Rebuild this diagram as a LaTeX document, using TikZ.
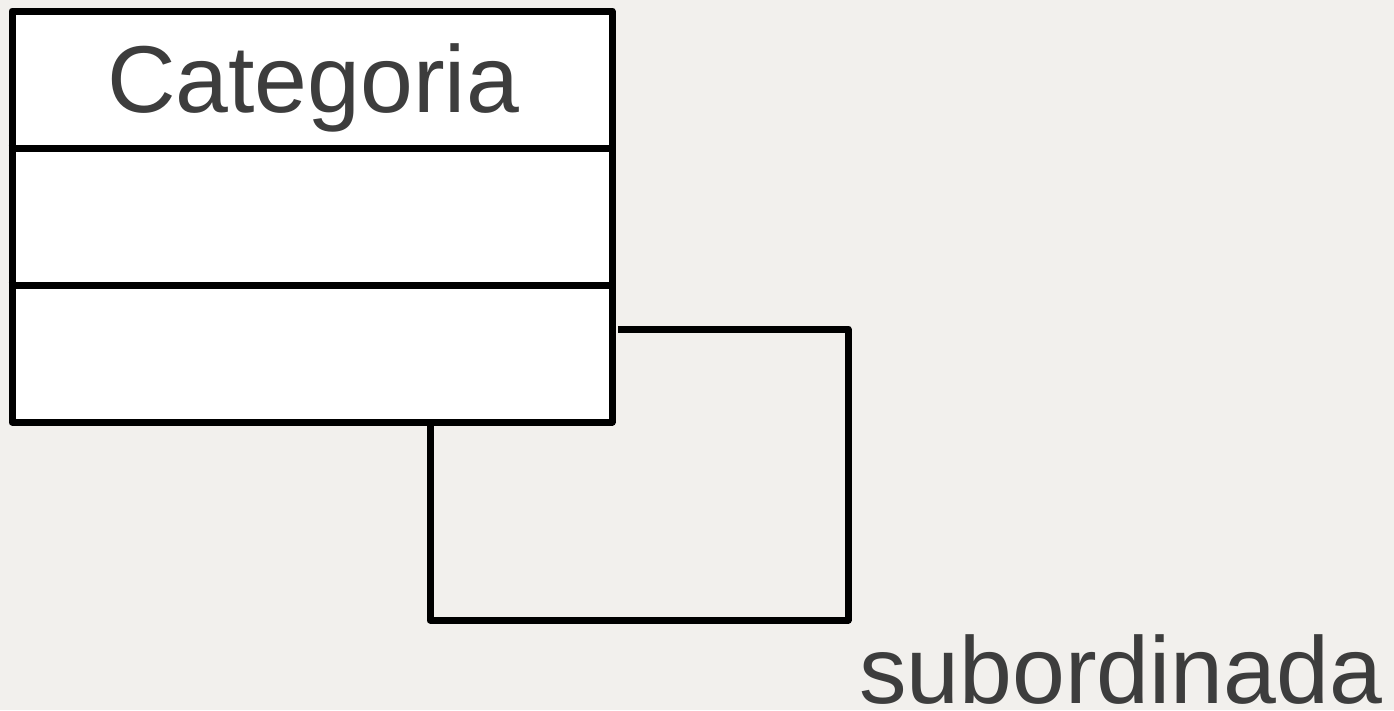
\documentclass[tikz,border=0pt]{standalone}
\usepackage{fontspec}
\setmainfont{Liberation Sans}
\definecolor{bg}{HTML}{F2F0ED}
\definecolor{txt}{HTML}{3D3D3D}
\begin{document}
\begin{tikzpicture}[x=1pt,y=-1pt,
  umlbox/.style={draw=black,fill=white,line width=7pt,minimum width=600pt,minimum height=411pt,inner sep=0pt,line join=round},
  lbl/.style={text=txt,font=\fontsize{95}{110}\selectfont,inner sep=0pt},
  conn/.style={draw=black,line width=7pt,line join=round}]
\fill[bg] (0,0) rectangle (1394,710);
\useasboundingbox (0,0) rectangle (1394,710);
\node[umlbox] (cls) at (312,216.5) {};
\draw[line width=7pt] (cls.west |- 0,148) -- (cls.east |- 0,148);
\draw[line width=7pt] (cls.west |- 0,285) -- (cls.east |- 0,285);
\node[lbl,anchor=base] (title) at (313,112) {Categoria};
\coordinate (start) at (618,329);
\coordinate (end) at (430,422);
\draw[conn] (start) -- (848,329) -- (848,620) -- (430,620) -- (end);
\node[lbl,anchor=base west] (role) at (859,703) {subordinada};
\end{tikzpicture}
\end{document}
